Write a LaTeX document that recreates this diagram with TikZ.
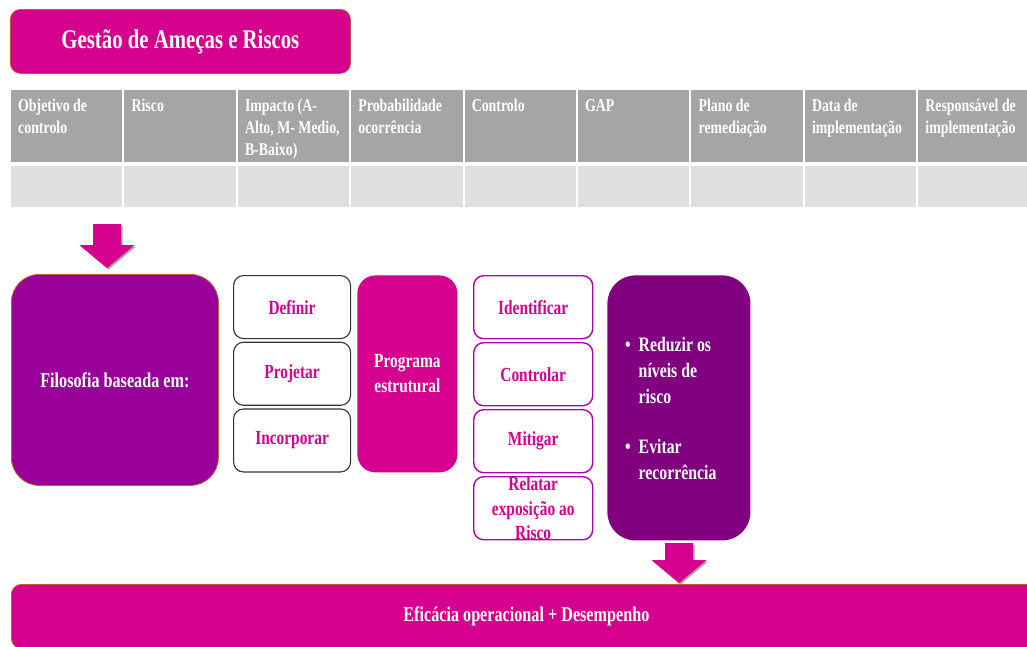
\documentclass[tikz,border=0pt]{standalone}
\usepackage{fontspec}
\setmainfont{Liberation Serif}[FakeStretch=0.77]
\usetikzlibrary{positioning}

\definecolor{magentafill}{RGB}{214,0,143}
\definecolor{philopurple}{RGB}{153,0,153}
\definecolor{goalpurple}{RGB}{128,0,128}
\definecolor{framepurple}{RGB}{176,0,176}
\definecolor{headgrey}{RGB}{165,165,165}
\definecolor{rowgrey}{RGB}{223,223,223}
\definecolor{edgebrown}{RGB}{190,95,45}

\tikzset{
  bigbox/.style={draw=edgebrown, line width=0.8, text=white, inner sep=0,
    align=center, anchor=north west, font=\bfseries\fontsize{20}{25}\selectfont},
  titlebox/.style={bigbox, fill=magentafill, rounded corners=10,
    font=\bfseries\fontsize{27}{32}\selectfont},
  philobox/.style={bigbox, fill=philopurple, rounded corners=28,
    font=\bfseries\fontsize{21}{25}\selectfont},
  progbox/.style={bigbox, draw=none, fill=magentafill, rounded corners=18},
  goalbox/.style={bigbox, draw=none, fill=goalpurple, rounded corners=28},
  effbox/.style={bigbox, fill=magentafill, rounded corners=10},
  stepbox/.style={draw=black!80, line width=1.1, fill=white, rounded corners=10,
    text=magentafill, inner sep=0, align=center, minimum width=117, minimum height=63,
    font=\bfseries\fontsize{20}{24.5}\selectfont},
  riskbox/.style={stepbox, draw=framepurple, line width=1.4, minimum width=119},
  headtext/.style={anchor=north west, inner sep=0, align=left, text=white,
    font=\bfseries\fontsize{18}{22}\selectfont},
}

% block arrow: top centre, total length
\newcommand\blockarrow[2]{%
  \fill[black!35, shift={(#1)}, xshift=1.5, yshift=-1.5]
    (-14,0) -- (14,0) -- (14,#2-23) -- (27.5,#2-23) -- (0,#2) -- (-27.5,#2-23) -- (-14,#2-23) -- cycle;
  \fill[magentafill, shift={(#1)}]
    (-14,0) -- (14,0) -- (14,#2-23) -- (27.5,#2-23) -- (0,#2) -- (-27.5,#2-23) -- (-14,#2-23) -- cycle;
}

\begin{document}
\begin{tikzpicture}[x=1pt, y=-1pt]
\useasboundingbox (0,0) rectangle (1027,646);
\fill[white] (0,0) rectangle (1027,646);
\clip (0,0) rectangle (1027,646);

% title
\node[titlebox, minimum width=340, minimum height=64] (title) at (10,9) {Gestão de Ameças e Riscos};

% table
\foreach \lab [count=\i from 0] in {{Objetivo de\\controlo}, Risco, {Impacto (A-\\Alto, M- Medio,\\B-Baixo)},
    {Probabilidade\\ocorrência}, Controlo, GAP, {Plano de\\remediação}, {Data de\\implementação},
    {Responsável de\\implementação}} {
  \fill[headgrey] (11+\i*113.4,90) rectangle ++(111.4,72);
  \fill[rowgrey] (11+\i*113.4,166) rectangle ++(111.4,41);
  \node[headtext] (h\i) at (18+\i*113.4,99) {\lab};
}

% arrows
\blockarrow{107,224}{44}
\blockarrow{679,543}{40}

% philosophy
\node[philobox, minimum width=207, minimum height=211] (philo) at (11,274) {Filosofia baseada em:};

\node[stepbox, anchor=north west] (def) at (233,275) {Definir};
\node[stepbox, below=2.6pt of def] (proj) {Projetar};
\node[stepbox, below=2.6pt of proj] (inc) {Incorporar};

\node[progbox, minimum width=100, minimum height=197] (prog) at (357,275) {Programa\\estrutural};

\node[riskbox, anchor=north west] (ident) at (473,275) {Identificar};
\node[riskbox, below=2.6pt of ident] (ctrl) {Controlar};
\node[riskbox, below=2.6pt of ctrl] (mit) {Mitigar};
\node[riskbox, below=2.6pt of mit, minimum height=63] (rel) {Relatar\\exposição ao\\Risco};

\node[goalbox, minimum width=143, minimum height=265] (goal) at (607,275) {};
\node[anchor=west, inner sep=0, text=white, font=\bfseries\fontsize{20.5}{26}\selectfont]
  (goaltext) at ([xshift=18,yshift=-2]goal.west) {%
  \begin{tabular}{@{}l@{\hspace{8pt}}l@{}}
  \textbullet & Reduzir os\\
   & níveis de\\
   & risco\\[24pt]
  \textbullet & Evitar\\
   & recorrência
  \end{tabular}};

% result
\node[effbox, minimum width=1030, minimum height=64, font=\bfseries\fontsize{21}{25}\selectfont]
  (eff) at (11,584) {Eficácia operacional + Desempenho};
\end{tikzpicture}
\end{document}
